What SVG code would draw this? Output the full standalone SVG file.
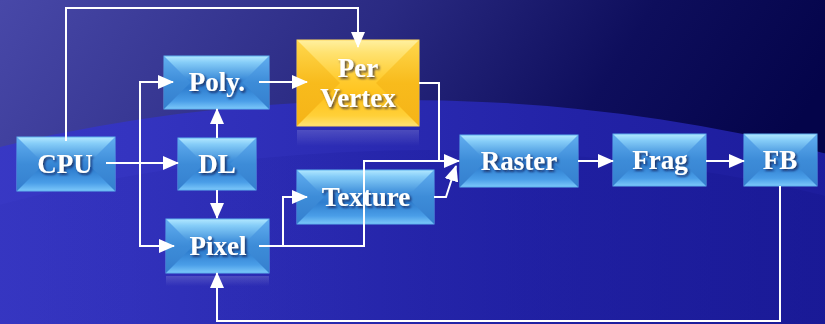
<svg xmlns="http://www.w3.org/2000/svg" width="825" height="324" viewBox="0 0 825 324">
<defs>
<linearGradient id="bgTop" x1="0" y1="0" x2="1" y2="0.25">
<stop offset="0" stop-color="#4848a8"/>
<stop offset="0.45" stop-color="#2a2a82"/>
<stop offset="0.75" stop-color="#0e0e5c"/>
<stop offset="1" stop-color="#04044a"/>
</linearGradient>
<linearGradient id="bgLow" x1="0" y1="0" x2="1" y2="0">
<stop offset="0" stop-color="#4646d4"/>
<stop offset="0.35" stop-color="#3434c0"/>
<stop offset="0.6" stop-color="#2222a6"/>
<stop offset="1" stop-color="#12128a"/>
</linearGradient>
<linearGradient id="bgLow2" x1="0" y1="0" x2="1" y2="0">
<stop offset="0" stop-color="#4040cc" stop-opacity="0.0"/>
<stop offset="0.5" stop-color="#1c1c9c" stop-opacity="0.35"/>
<stop offset="1" stop-color="#0c0c7a" stop-opacity="0.5"/>
</linearGradient>
<linearGradient id="blueBody" x1="0" y1="0" x2="0" y2="1">
<stop offset="0" stop-color="#b2e8ff"/>
<stop offset="0.12" stop-color="#86cdf8"/>
<stop offset="0.45" stop-color="#3a8ad8"/>
<stop offset="0.6" stop-color="#2f7ecf"/>
<stop offset="0.85" stop-color="#4a9ee8"/>
<stop offset="1" stop-color="#7cc8fa"/>
</linearGradient>
<linearGradient id="blueSide" x1="0" y1="0" x2="0" y2="1">
<stop offset="0" stop-color="#62aef0"/>
<stop offset="0.5" stop-color="#3d8cd8"/>
<stop offset="1" stop-color="#3580cf"/>
</linearGradient>
<linearGradient id="yelBody" x1="0" y1="0" x2="0" y2="1">
<stop offset="0" stop-color="#fff0a0"/>
<stop offset="0.15" stop-color="#ffe270"/>
<stop offset="0.45" stop-color="#ffcc30"/>
<stop offset="0.65" stop-color="#ffc21c"/>
<stop offset="0.88" stop-color="#ffd038"/>
<stop offset="1" stop-color="#ffe274"/>
</linearGradient>
<linearGradient id="yelSide" x1="0" y1="0" x2="0" y2="1">
<stop offset="0" stop-color="#ffd84e"/>
<stop offset="0.5" stop-color="#f8bb1c"/>
<stop offset="1" stop-color="#f5b418"/>
</linearGradient>
<linearGradient id="refl" x1="0" y1="0" x2="0" y2="1">
<stop offset="0" stop-color="#ffffff" stop-opacity="0.16"/>
<stop offset="1" stop-color="#ffffff" stop-opacity="0"/>
</linearGradient>
<filter id="ts" x="-20%" y="-30%" width="140%" height="160%">
<feDropShadow dx="1.6" dy="1.8" stdDeviation="1" flood-color="#0a1040" flood-opacity="0.75"/>
</filter>
<marker id="ah" viewBox="0 0 16 14" markerWidth="16" markerHeight="14" refX="15" refY="7" orient="auto" markerUnits="userSpaceOnUse">
<path d="M0,0 L16,7 L0,14 z" fill="#ffffff"/>
</marker>
</defs>
<style>
.bx{fill:url(#blueBody);stroke:#5fb0ee;stroke-width:1}
.sd{fill:url(#blueSide)}
.ybx{fill:url(#yelBody);stroke:#ffd860;stroke-width:1}
.ysd{fill:url(#yelSide)}
.lbl{font-family:"Liberation Serif","Times New Roman",serif;font-weight:bold;font-size:27px;fill:#ffffff;text-anchor:middle;filter:url(#ts)}
.cn{fill:none;stroke:#ffffff;stroke-width:2}
</style>

<g id="background">
<rect x="0" y="0" width="825" height="324" fill="url(#bgTop)"/>
<ellipse cx="400" cy="550" rx="900" ry="450" fill="url(#bgLow)"/>
<ellipse cx="430" cy="600" rx="900" ry="450" fill="url(#bgLow2)"/>
<rect x="297" y="130" width="122" height="16" fill="url(#refl)"/>
<rect x="166" y="276" width="103" height="10" fill="url(#refl)"/>
</g>

<g id="cpu">
<rect class="bx" x="17" y="137" width="98" height="54"/>
<polygon class="sd" points="17,137 44,164 17,191"/>
<polygon class="sd" points="115,137 88,164 115,191"/>
<text class="lbl" x="65" y="173">CPU</text>
</g>

<g id="poly">
<rect class="bx" x="164" y="56" width="105" height="53"/>
<polygon class="sd" points="164,56 190.5,82.5 164,109"/>
<polygon class="sd" points="269,56 242.5,82.5 269,109"/>
<text class="lbl" x="217" y="91">Poly.</text>
</g>

<g id="pervertex">
<rect class="ybx" x="297" y="40" width="122" height="86"/>
<polygon class="ysd" points="297,40 340,83 297,126"/>
<polygon class="ysd" points="419,40 376,83 419,126"/>
<text class="lbl" x="358" y="77">Per</text>
<text class="lbl" x="358" y="107">Vertex</text>
</g>

<g id="dl">
<rect class="bx" x="178" y="138" width="78" height="52"/>
<polygon class="sd" points="178,138 204,164 178,190"/>
<polygon class="sd" points="256,138 230,164 256,190"/>
<text class="lbl" x="217" y="173">DL</text>
</g>

<g id="texture">
<rect class="bx" x="297" y="170" width="137" height="54"/>
<polygon class="sd" points="297,170 324,197 297,224"/>
<polygon class="sd" points="434,170 407,197 434,224"/>
<text class="lbl" x="366" y="206">Texture</text>
</g>

<g id="pixel">
<rect class="bx" x="166" y="219" width="103" height="54"/>
<polygon class="sd" points="166,219 193,246 166,273"/>
<polygon class="sd" points="269,219 242,246 269,273"/>
<text class="lbl" x="218" y="255">Pixel</text>
</g>

<g id="raster">
<rect class="bx" x="460" y="135" width="118" height="52"/>
<polygon class="sd" points="460,135 486,161 460,187"/>
<polygon class="sd" points="578,135 552,161 578,187"/>
<text class="lbl" x="519" y="170">Raster</text>
</g>

<g id="frag">
<rect class="bx" x="613" y="134" width="93" height="52"/>
<polygon class="sd" points="613,134 639,160 613,186"/>
<polygon class="sd" points="706,134 680,160 706,186"/>
<text class="lbl" x="660" y="169">Frag</text>
</g>

<g id="fb">
<rect class="bx" x="744" y="134" width="73" height="52"/>
<polygon class="sd" points="744,134 770,160 744,186"/>
<polygon class="sd" points="817,134 791,160 817,186"/>
<text class="lbl" x="780" y="169">FB</text>
</g>

<g id="connectors">
<path class="cn" d="M66,141 V8 H358 V47" marker-end="url(#ah)"/>
<path class="cn" d="M106,163 H178" marker-end="url(#ah)"/>
<path class="cn" d="M140,163 V82 H173" marker-end="url(#ah)"/>
<path class="cn" d="M140,163 V246 H174" marker-end="url(#ah)"/>
<path class="cn" d="M259,82 H307" marker-end="url(#ah)"/>
<path class="cn" d="M217,138 V109" marker-end="url(#ah)"/>
<path class="cn" d="M217,190 V218" marker-end="url(#ah)"/>
<path class="cn" d="M419,83 H439 V161 H459" marker-end="url(#ah)"/>
<path class="cn" d="M259,246 H364 V161 H440"/>
<path class="cn" d="M283,246 V197 H307" marker-end="url(#ah)"/>
<path class="cn" d="M434,197 H446 L456,166" marker-end="url(#ah)"/>
<path class="cn" d="M578,161 H613" marker-end="url(#ah)"/>
<path class="cn" d="M706,161 H744" marker-end="url(#ah)"/>
<path class="cn" d="M780,186 V321 H217 V273" marker-end="url(#ah)"/>
</g>
</svg>
